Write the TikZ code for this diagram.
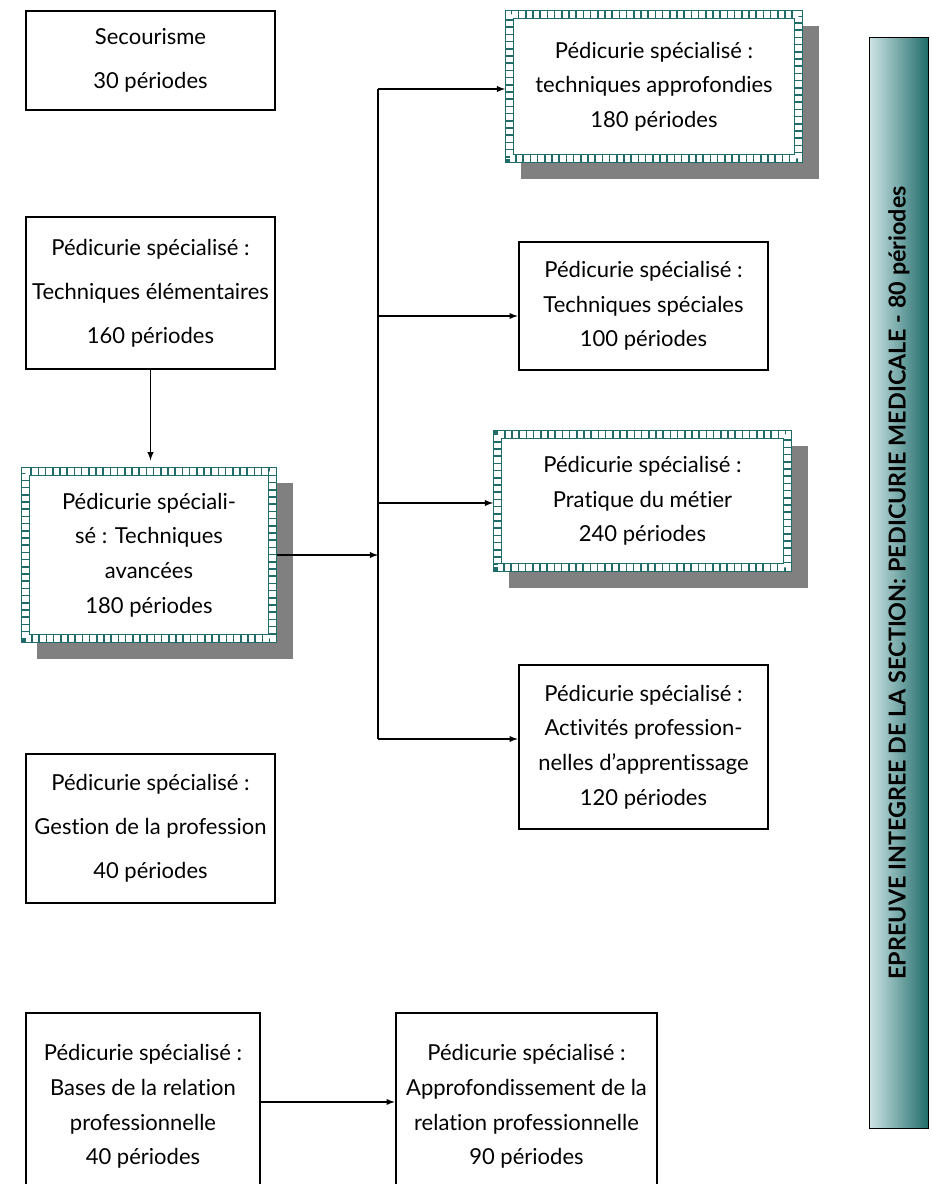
\documentclass[tikz,border=0pt]{standalone}
\usepackage{fontspec}
\setmainfont{Lato}[Ligatures=NoCommon]
\usepackage{tikz}
\usepackage{xcolor}
\usetikzlibrary{shapes, arrows, positioning, shadows, calc}
\definecolor{Teal}{RGB}{31, 108, 106}
\definecolor{BarLight}{RGB}{205, 227, 229}
\definecolor{ShadowGray}{RGB}{128, 128, 128}

\begin{document}
\begin{tikzpicture}[x=0.75pt, y=-0.75pt,
    box/.style={draw, line width=2pt, fill=white, inner sep=0pt, align=center, font=\fontsize{16.5}{26}\selectfont},
    wide/.style={font=\fontsize{16.5}{33}\selectfont},
    ladder/.style={draw=Teal, line width=7pt, fill=white, inner sep=0pt, align=center, font=\fontsize{16.5}{26}\selectfont,
        general shadow={fill=ShadowGray, draw=ShadowGray, line width=7pt, shadow xshift=12pt, shadow yshift=-12pt},
        postaction={draw=white, line width=5.2pt, dash pattern=on 4.2pt off 1.2pt}},
    conn/.style={line width=1.1pt},
    arr/.style={conn, -latex}]
        \useasboundingbox (0, 0) rectangle (931, 1184);

        % Left column
        \node[box, wide, minimum width=186.75pt, minimum height=74.25pt] (secour) at (150.5, 60.5) {Secourisme\\30 périodes};
        \node[box, wide, minimum width=186.75pt, minimum height=114pt] (elem) at (150.5, 293) {Pédicurie spécialisé :\\Techniques élémentaires\\160 périodes};
        \node[ladder, minimum width=185pt, minimum height=125pt] (avanc) at (149, 555) {Pédicurie spéciali-\\sé : Techniques\\avancées\\180 périodes};
        \node[box, wide, minimum width=186.75pt, minimum height=111.75pt] (gestion) at (150.5, 828.5) {Pédicurie spécialisé :\\Gestion de la profession\\40 périodes};

        % Right column
        \node[ladder, minimum width=216.5pt, minimum height=107.75pt] (approf) at (654, 86.5) {Pédicurie spécialisé :\\techniques approfondies\\180 périodes};
        \node[box, minimum width=186.75pt, minimum height=96pt] (spec) at (643.5, 306) {Pédicurie spécialisé :\\Techniques spéciales\\100 périodes};
        \node[ladder, minimum width=217.25pt, minimum height=99.5pt] (prat) at (642.5, 501) {Pédicurie spécialisé :\\Pratique du métier\\240 périodes};
        \node[box, minimum width=186.75pt, minimum height=123pt] (activ) at (643.5, 747) {Pédicurie spécialisé :\\Activités profession-\\nelles d’apprentissage\\120 périodes};

        % Relation
        \node[box, minimum width=175.5pt, minimum height=140.25pt] (bases) at (143, 1106.5) {Pédicurie spécialisé :\\Bases de la relation\\professionnelle\\40 périodes};
        \node[box, minimum width=195.75pt, minimum height=140.25pt] (relation) at (526.5, 1106.5) {Pédicurie spécialisé :\\Approfondissement de la\\relation professionnelle\\90 périodes};

        % Epreuve integree
        \node[draw, line width=1.2pt, left color=BarLight, right color=Teal, minimum width=44.25pt, minimum height=818.25pt] (epreuve) at (899, 583) {};
        \node[rotate=90, font=\fontsize{17.5}{20}\selectfont\bfseries] (epreuvetxt) at (epreuve.center) {EPREUVE INTEGREE DE LA SECTION: PEDICURIE MEDICALE - 80 périodes};

        % Arrows
        \coordinate (trunk) at (378, 0);
        \coordinate (bapprof) at ($(approf.west)+(0, 2.5)$);
        \coordinate (bspec) at ($(spec.west)+(0, 10)$);
        \coordinate (bprat) at ($(prat.west)+(0, 2)$);
        \coordinate (bactiv) at ($(activ.west)+(0, -8)$);
        \draw[conn] (bapprof -| trunk) -- (bactiv -| trunk);
        \draw[arr] (bapprof -| trunk) -- (bapprof);
        \draw[arr] (bspec -| trunk) -- (bspec);
        \draw[arr] (bprat -| trunk) -- (bprat);
        \draw[arr] (bactiv -| trunk) -- (bactiv);
        \draw[arr] (avanc.east) -- (avanc.east -| trunk);
        \draw[arr, shorten >=5pt] (elem.south) -- (elem.south |- avanc.north);
        \draw[arr] ([yshift=3.4pt]bases.east) -- ([yshift=3.4pt]relation.west);
    \end{tikzpicture}
\end{document}
